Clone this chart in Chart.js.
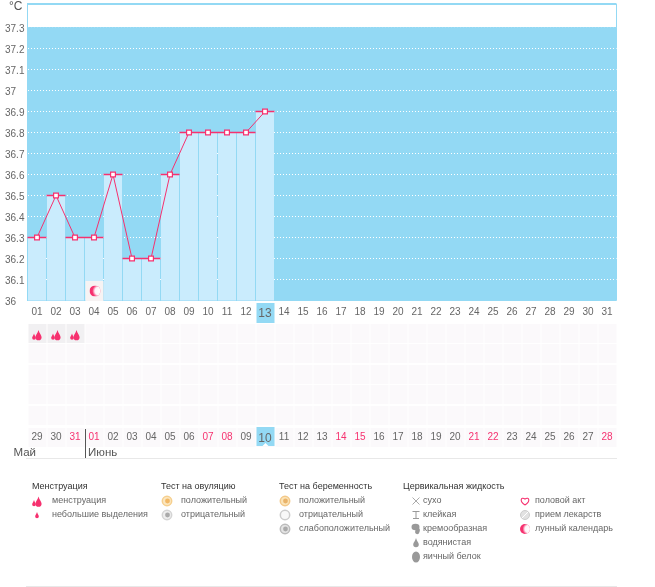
<!DOCTYPE html>
<html>
<head>
<meta charset="utf-8">
<title>График</title>
<style>
html,body{margin:0;padding:0;background:#fff}
#wrap{position:relative;width:655px;height:587px}
</style>
<script src="https://cdn.jsdelivr.net/npm/chart.js@4/dist/chart.umd.min.js"></script>
</head>
<body>
<div id="wrap"><canvas id="bbtChart" width="655" height="587"></canvas></div>
<script>
var days = ["01","02","03","04","05","06","07","08","09","10","11","12","13","14","15","16","17","18","19","20","21","22","23","24","25","26","27","28","29","30","31"];
var cycleDates = ["29","30","31","01","02","03","04","05","06","07","08","09","10","11","12","13","14","15","16","17","18","19","20","21","22","23","24","25","26","27","28"];
var redDates = [2,3,9,10,16,17,23,24,30];
var temps = [36.3,36.5,36.3,36.3,36.6,36.2,36.2,36.6,36.8,36.8,36.8,36.8,36.9];
var yTicks = [36,36.1,36.2,36.3,36.4,36.5,36.6,36.7,36.8,36.9,37,37.1,37.2,37.3];
var zoneTop = 37.3;
var todayIndex = 12;
var menstruationDays = [0,1,2];
var moonDay = 3;
var mayLabel = "Май", juneLabel = "Июнь";
var legendGroups = [
  {title:"Менструация", items:[["mens","менструация"],["spot","небольшие выделения"]]},
  {title:"Тест на овуляцию", items:[["ovuPos","положительный"],["ovuNeg","отрицательный"]]},
  {title:"Тест на беременность", items:[["pregPos","положительный"],["pregNeg","отрицательный"],["pregWeak","слабоположительный"]]},
  {title:"Цервикальная жидкость", items:[["dry","сухо"],["sticky","клейкая"],["creamy","кремообразная"],["watery","водянистая"],["egg","яичный белок"]]},
  {title:"", items:[["heart","половой акт"],["pill","прием лекарств"],["moon","лунный календарь"]]}
];

var FONT = '"Liberation Sans", sans-serif';
var PINK = "#f6316f", BLUE = "#93d9f4", LIGHT = "#caecfd", GREY = "#999", CELL = "#fbf9fb";
var legendX = [[32,37,52],[161,167,181],[279,285,299],[403,416,423],[0,525,535]];
var rowTops = [324,344,365,385,406];

function drop(c,x,y,s){
  var w=s*0.62;
  c.beginPath();
  c.moveTo(x,y-s);
  c.bezierCurveTo(x+s*0.15,y-s*0.3,x+w,y,x+w,y+s*0.45);
  c.arc(x,y+s*0.45,w,0,Math.PI);
  c.bezierCurveTo(x-w,y,x-s*0.15,y-s*0.3,x,y-s);
  c.fill();
}
function moon(c,x,y,r){
  c.save();
  c.beginPath();c.arc(x,y,r,0,Math.PI*2);c.clip();
  c.fillStyle=PINK;
  c.fillRect(x-r,y-r,r*2,r*2);
  var g=c.createRadialGradient(x+r*0.7,y,0,x+r*0.7,y,r*1.2);
  g.addColorStop(0,"#fff");g.addColorStop(0.6,"rgba(255,255,255,0.95)");g.addColorStop(1,"rgba(255,255,255,0)");
  c.fillStyle=g;
  c.fillRect(x-r,y-r,r*2,r*2);
  c.restore();
}
function testIcon(c,x,y,ring,fill,core){
  c.fillStyle=fill;c.strokeStyle=ring;c.lineWidth=1.5;
  c.beginPath();c.arc(x,y,4.7,0,Math.PI*2);c.fill();c.stroke();
  if(core){c.fillStyle=core;c.beginPath();c.arc(x+0.5,y,2.4,0,Math.PI*2);c.fill();}
}
function drawIcon(c,name,x,y){
  c.save();
  c.fillStyle=GREY;c.strokeStyle=GREY;c.lineWidth=1;
  if(name=="mens"){c.fillStyle=PINK;drop(c,x+1.5,y+0.5,5);drop(c,x-3,y+2,3);}
  else if(name=="spot"){c.fillStyle=PINK;drop(c,x,y,3);}
  else if(name=="ovuPos")testIcon(c,x,y,"#f6cf8e","#fbe7c0","#f2b865");
  else if(name=="ovuNeg")testIcon(c,x,y,"#d4d4d4","#eee","#aaa");
  else if(name=="pregPos")testIcon(c,x,y,"#f3c888","#fbe4b8","#e9b36a");
  else if(name=="pregNeg")testIcon(c,x,y,"#ccc","#f8f8f8",null);
  else if(name=="pregWeak")testIcon(c,x,y,"#bbb","#e4e4e4","#aaa");
  else if(name=="dry"){c.strokeStyle="#aaa";c.beginPath();c.moveTo(x-3.5,y-3.5);c.lineTo(x+3.5,y+3.5);c.moveTo(x+3.5,y-3.5);c.lineTo(x-3.5,y+3.5);c.stroke();}
  else if(name=="sticky"){c.beginPath();c.moveTo(x-3.5,y-3.5);c.lineTo(x+3.5,y-3.5);c.moveTo(x,y-3.5);c.lineTo(x,y+3.5);c.moveTo(x-3,y+3.5);c.lineTo(x+3,y+3.5);c.stroke();}
  else if(name=="creamy"){c.beginPath();c.ellipse(x-0.5,y-2,4,3.2,0,0,Math.PI*2);c.fill();c.beginPath();c.ellipse(x+1.5,y+2,2.2,3.2,0.3,0,Math.PI*2);c.fill();}
  else if(name=="watery")drop(c,x,y-0.5,4.5);
  else if(name=="egg"){c.beginPath();c.ellipse(x,y,4,5.5,0,0,Math.PI*2);c.fill();}
  else if(name=="heart"){
    c.strokeStyle=PINK;c.lineWidth=1.1;c.beginPath();
    c.moveTo(x,y+4);c.bezierCurveTo(x-6,y,x-4,y-4.5,x,y-2);c.bezierCurveTo(x+4,y-4.5,x+6,y,x,y+4);c.stroke();
  }
  else if(name=="pill"){
    c.fillStyle="#e2e2e2";c.strokeStyle="#ccc";c.beginPath();c.arc(x,y,4.5,0,Math.PI*2);c.fill();c.stroke();
    c.strokeStyle="#fff";c.beginPath();c.moveTo(x-3,y+3);c.lineTo(x+3,y-3);c.stroke();
  }
  else if(name=="moon")moon(c,x,y,5);
  c.restore();
}

var backdrop = {
  id:"backdrop",
  beforeDraw:function(chart){
    var c=chart.ctx, a=chart.chartArea, x=chart.scales.x, y=chart.scales.y;
    var zy=Math.round(y.getPixelForValue(zoneTop));
    c.save();
    // frame and blue band
    c.fillStyle=BLUE;
    c.fillRect(a.left-0.5,a.top-0.5,a.width,2);
    c.fillRect(a.left-0.5,a.top,1,a.height);
    c.fillRect(a.right-0.5,a.top,1,a.height);
    c.fillRect(a.left-0.5,zy,a.width+0.5,a.bottom+0.5-zy);
    // symptom cells
    for(var i=0;i<days.length;i++){
      var cx=Math.round(x.getPixelForValue(i)-9.5)+0.5;
      for(var r=0;r<rowTops.length;r++){
        c.fillStyle=(r==0&&menstruationDays.indexOf(i)>=0)?"#f1f0f2":CELL;
        c.fillRect(cx,rowTops[r],18,19);
      }
      c.fillStyle=CELL;
      c.fillRect(cx,428,18,19);
    }
    // today boxes
    var tx=Math.round(x.getPixelForValue(todayIndex)-9.5)+0.5;
    c.fillStyle=BLUE;
    c.fillRect(tx,303,18,20);
    c.fillRect(tx,427,18,19);
    c.fillStyle="#fff";
    c.beginPath();c.moveTo(tx+6,446);c.lineTo(tx+9,443);c.lineTo(tx+12,446);c.fill();
    // footer lines
    c.fillStyle="#e8e8e8";
    c.fillRect(26,458,591,1);
    c.fillRect(26,586,591,1);
    c.restore();
  },
  afterDraw:function(chart){
    var c=chart.ctx, x=chart.scales.x;
    c.save();
    // cell icons
    menstruationDays.forEach(function(i){drawIcon(c,"mens",x.getPixelForValue(i),334.5);});
    var mx=x.getPixelForValue(moonDay);
    c.fillStyle="#f7f3f3";
    c.fillRect(Math.round(mx-9.5)+0.5,281,18,20);
    moon(c,mx+1,291,5.5);
    // unit and month names
    c.fillStyle="#555";
    c.textBaseline="middle";c.textAlign="left";
    c.font="12px "+FONT;
    c.fillText("°C",9,7);
    var sep=x.getPixelForValue(3)-w0(x)/2;
    c.font="11.5px "+FONT;
    c.textAlign="right";c.fillText(mayLabel,36,453);
    c.textAlign="left";c.fillText(juneLabel,sep+3.5,453);
    c.fillStyle="#555";
    c.fillRect(Math.round(sep),429,1,29);
    // legend
    legendGroups.forEach(function(g,gi){
      var pos=legendX[gi];
      if(g.title){
        c.fillStyle="#333";c.font="9px "+FONT;c.textAlign="left";
        c.fillText(g.title,pos[0],487);
      }
      g.items.forEach(function(it,n){
        var iy=501+n*14;
        drawIcon(c,it[0],pos[1],iy);
        c.fillStyle="#666";c.font="9px "+FONT;c.textAlign="left";
        c.fillText(it[1],pos[2],iy);
      });
    });
    c.restore();
  }
};
function w0(x){return x.getPixelForValue(1)-x.getPixelForValue(0);}

function fixedBox(size,vertical){
  return function(s){
    if(vertical){s.width=size;}else{s.height=size;}
    s.paddingTop=0;s.paddingBottom=0;s.paddingLeft=0;s.paddingRight=0;
  };
}

new Chart(document.getElementById("bbtChart").getContext("2d"),{
  type:"bar",
  plugins:[backdrop],
  data:{
    labels:days,
    datasets:[
      {type:"line",data:temps,borderColor:PINK,borderWidth:1,tension:0,pointStyle:"rect",pointRadius:3.4,
       pointBorderWidth:1.2,pointBackgroundColor:"#fff",pointBorderColor:PINK,order:1},
      {type:"line",data:temps,showLine:false,pointStyle:"line",pointRadius:9.5,pointBorderWidth:1.5,
       pointBorderColor:PINK,order:2},
      {type:"bar",data:temps,backgroundColor:LIGHT,barPercentage:18/19,categoryPercentage:1,order:3}
    ]
  },
  options:{
    responsive:false,
    animation:false,
    events:[],
    layout:{autoPadding:false,padding:{left:5,right:38.5,top:3.5,bottom:140.5}},
    plugins:{legend:{display:false},tooltip:{enabled:false}},
    scales:{
      x:{
        position:"bottom",
        grid:{display:false,drawTicks:false},border:{display:false},
        ticks:{
          autoSkip:false,maxRotation:0,padding:6,
          color:"#666",
          font:function(ctx){return {family:FONT,size:ctx.index==todayIndex?12:10};}
        },
        afterFit:fixedBox(126,false)
      },
      x2:{
        type:"category",labels:cycleDates,position:"bottom",
        grid:{display:false,drawTicks:false},border:{display:false},
        ticks:{
          autoSkip:false,maxRotation:0,padding:5,
          color:function(ctx){return redDates.indexOf(ctx.index)>=0?PINK:"#666";},
          font:function(ctx){return {family:FONT,size:ctx.index==todayIndex?12:10};}
        },
        afterFit:fixedBox(20,false)
      },
      y:{
        min:36,max:36+297/210,
        afterBuildTicks:function(s){s.ticks=yTicks.map(function(v){return {value:v};});},
        grid:{
          drawTicks:false,lineWidth:1,
          color:function(ctx){
            if(ctx.tick.value==36)return "rgba(255,255,255,0)";
            return ctx.tick.value==zoneTop?"rgba(255,255,255,0.15)":"#fff";
          }
        },
        border:{display:false,dash:[1,2]},
        ticks:{
          crossAlign:"far",padding:0,labelOffset:2,color:"#666",
          font:{family:FONT,size:10},
          callback:function(v){return String(v);}
        },
        afterFit:fixedBox(22.5,true)
      }
    }
  }
});
</script>
</body>
</html>
